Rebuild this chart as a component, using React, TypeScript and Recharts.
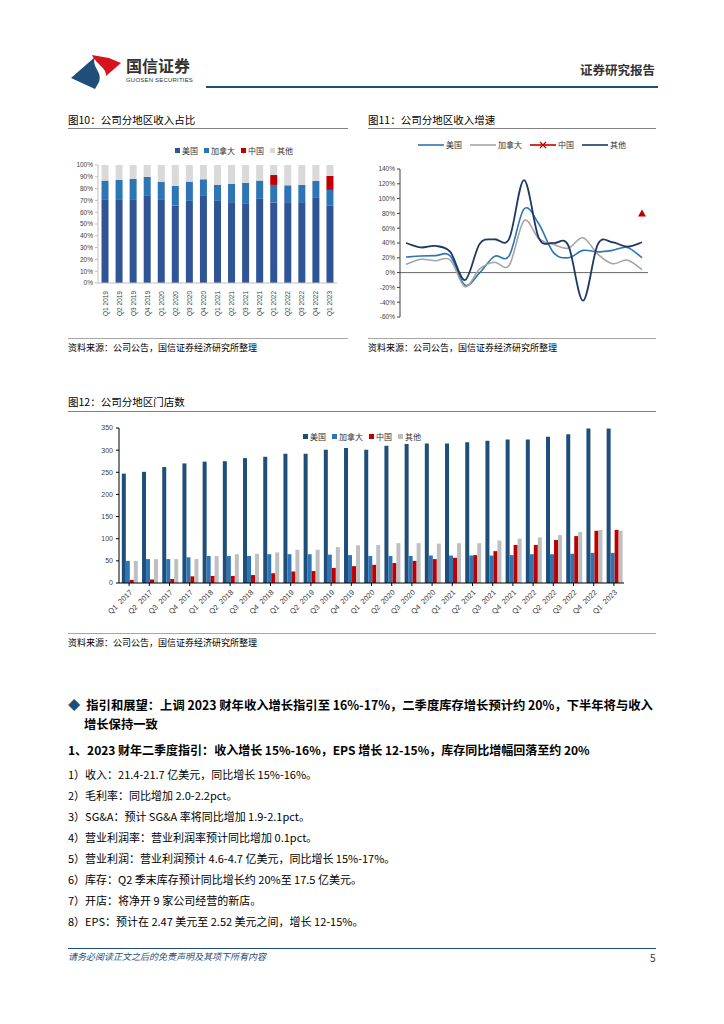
import React from 'react';
import { BarChart, Bar, LineChart, Line, XAxis, YAxis, Legend, ReferenceLine } from 'recharts';

// 图10 / 图11 quarters
const revQuarters = [
  'Q1 2019', 'Q2 2019', 'Q3 2019', 'Q4 2019', 'Q1 2020', 'Q2 2020', 'Q3 2020', 'Q4 2020',
  'Q1 2021', 'Q2 2021', 'Q3 2021', 'Q4 2021', 'Q1 2022', 'Q2 2022', 'Q3 2022', 'Q4 2022', 'Q1 2023',
];

// 图10 收入占比 (%)
const shareUS = [71, 70.4, 70.4, 73.8, 70.4, 65.6, 69.6, 73.8, 69.6, 68.5, 67.6, 71.3, 68.2, 68.5, 68.5, 72.7, 65.4];
const shareCA = [15.8, 16.9, 17.8, 16.1, 15.5, 16.7, 16.3, 14.1, 13.5, 15.4, 17.2, 15.5, 14.9, 14.3, 14.6, 13.8, 13.5];
const shareCN = [0, 0, 0, 0, 0, 0, 0, 0, 0, 0, 0, 0, 8.4, 0, 0, 0, 11.8];
const shareOther = [13.2, 12.7, 11.8, 10.1, 14.1, 17.7, 14.1, 12.1, 16.9, 16.1, 15.2, 13.2, 8.5, 17.2, 16.9, 13.5, 9.3];

// 图11 收入增速 (%)
const growthUS = [21, 22.5, 23, 22.5, -17, 0, 22, 23, 86, 66, 27, 20, 30, 28, 30, 34, 20];
const growthCA = [11, 18, 16, 17, -19, 5, 14, 10, 70, 46, 38, 33, 47, 25, 12, 17, 4];
const growthCN = [null, null, null, null, null, null, null, null, null, null, null, null, null, null, null, null, 80];
const growthOther = [40, 34, 36, 28, -10, 39, 45, 46, 125, 47, 40, 37, -38, 38, 41, 35, 41];

// 图12 门店数
const storeQuarters = [
  'Q1  2017', 'Q2  2017', 'Q3  2017', 'Q4  2017', 'Q1  2018', 'Q2  2018', 'Q3  2018', 'Q4  2018',
  'Q1  2019', 'Q2  2019', 'Q3  2019', 'Q4  2019', 'Q1  2020', 'Q2  2020', 'Q3  2020', 'Q4  2020',
  'Q1  2021', 'Q2  2021', 'Q3  2021', 'Q4  2021', 'Q1  2022', 'Q2  2022', 'Q3  2022', 'Q4  2022', 'Q1  2023',
];
const storesUS = [247, 251, 262, 270, 274, 275, 282, 285, 292, 292, 301, 305, 301, 310, 314, 315, 315, 318, 321, 324, 324, 330, 336, 349, 349];
const storesCA = [50, 54, 54, 58, 61, 61, 61, 65, 65, 65, 64, 63, 61, 61, 61, 62, 62, 62, 62, 63, 65, 65, 66, 68, 68];
const storesCN = [7, 8, 9, 15, 16, 16, 18, 22, 26, 27, 34, 38, 41, 45, 50, 54, 57, 63, 72, 86, 86, 97, 106, 118, 120];
const storesOther = [50, 54, 54, 54, 61, 65, 66, 69, 75, 75, 81, 85, 86, 90, 90, 89, 90, 90, 96, 100, 103, 108, 115, 120, 118];

const guidance = [
  '1）收入：21.4-21.7 亿美元，同比增长 15%-16%。',
  '2）毛利率：同比增加 2.0-2.2pct。',
  '3）SG&A：预计 SG&A 率将同比增加 1.9-2.1pct。',
  '4）营业利润率：营业利润率预计同比增加 0.1pct。',
  '5）营业利润：营业利润预计 4.6-4.7 亿美元，同比增长 15%-17%。',
  '6）库存：Q2 季末库存预计同比增长约 20%至 17.5 亿美元。',
  '7）开店：将净开 9 家公司经营的新店。',
  '8）EPS：预计在 2.47 美元至 2.52 美元之间，增长 12-15%。',
];

const shareData = revQuarters.map((q, i) => ({ q, us: shareUS[i], ca: shareCA[i], cn: shareCN[i], other: shareOther[i] }));
const growthData = revQuarters.map((q, i) => ({ q, us: growthUS[i], ca: growthCA[i], cn: growthCN[i], other: growthOther[i] }));
const storeData = storeQuarters.map((q, i) => ({ q, us: storesUS[i], ca: storesCA[i], cn: storesCN[i], other: storesOther[i] }));

const CJK = '"Noto Sans CJK SC", "Noto Sans", sans-serif';
const TICK_FONT = '"Liberation Sans", Arial, sans-serif';
const NAVY = '#1F4E79';

// excel-like smoothed line (catmull-rom through the points)
const excelSmooth = (context: any) => {
  let pts: number[][] = [];
  return {
    areaStart() {},
    areaEnd() {},
    lineStart() { pts = []; },
    point(x: number, y: number) { pts.push([+x, +y]); },
    lineEnd() {
      if (!pts.length) return;
      context.moveTo(pts[0][0], pts[0][1]);
      for (let i = 0; i < pts.length - 1; i++) {
        const p0 = pts[i - 1] || pts[i];
        const p1 = pts[i];
        const p2 = pts[i + 1];
        const p3 = pts[i + 2] || p2;
        context.bezierCurveTo(
          p1[0] + (p2[0] - p0[0]) / 6, p1[1] + (p2[1] - p0[1]) / 6,
          p2[0] - (p3[0] - p1[0]) / 6, p2[1] - (p3[1] - p1[1]) / 6,
          p2[0], p2[1],
        );
      }
    },
  };
};

const T = ({ x, y, size = 11, bold = false, color = '#000', italic = false, children }: any) => (
  <div style={{
    position: 'absolute', left: x, top: y - size * 0.65, fontSize: size, lineHeight: `${size * 1.3}px`,
    fontWeight: bold ? 700 : 400, color, fontStyle: italic ? 'italic' : 'normal', whiteSpace: 'nowrap',
  }}>{children}</div>
);

const HLine = ({ x, y, w, color = '#808080', h = 1 }: any) => (
  <div style={{ position: 'absolute', left: x, top: y, width: w, height: h, background: color }} />
);

const SquareLegend = ({ items }: any) => (
  <div style={{ display: 'flex', gap: 6, fontFamily: CJK, fontSize: 8, color: '#333', whiteSpace: 'nowrap' }}>
    {items.map((it: any) => (
      <span key={it.label} style={{ display: 'flex', alignItems: 'center', gap: 2 }}>
        <span style={{ width: 5, height: 5, background: it.color, display: 'inline-block' }} />
        {it.label}
      </span>
    ))}
  </div>
);

const LineLegend = ({ items }: any) => (
  <div style={{ display: 'flex', gap: 8, fontFamily: CJK, fontSize: 8, color: '#333', whiteSpace: 'nowrap' }}>
    {items.map((it: any) => (
      <span key={it.label} style={{ display: 'flex', alignItems: 'center', gap: 2 }}>
        <svg width={26} height={8}>
          <line x1={0} y1={4} x2={26} y2={4} stroke={it.color} strokeWidth={1.6} />
          {it.cross && <path d="M10,1 L16,7 M16,1 L10,7" stroke={it.color} strokeWidth={1.2} />}
        </svg>
        {it.label}
      </span>
    ))}
  </div>
);

const VerticalTick = ({ x, y, payload }: any) => (
  <text x={x} y={y} transform={`rotate(-90, ${x}, ${y})`} textAnchor="end" dominantBaseline="central"
    fontSize={6.5} fontFamily={TICK_FONT} fill="#404040">{payload.value}</text>
);

const G_TOP = 34;
const G_H = 148;
const G_ZERO = G_TOP + (G_H * 140) / 200;

const GrowthTick = ({ x, payload }: any) => (
  <g>
    <line x1={x} y1={G_ZERO} x2={x} y2={G_ZERO + 3} stroke="#404040" strokeWidth={0.8} />
    <text x={x} y={G_ZERO + 4} transform={`rotate(-90, ${x}, ${G_ZERO + 4})`} textAnchor="end" dominantBaseline="central"
      fontSize={6.5} fontFamily={TICK_FONT} fill="#404040">{payload.value}</text>
  </g>
);

const SlantTick = ({ x, y, payload }: any) => (
  <text x={x + 2} y={y + 3} transform={`rotate(-45, ${x + 2}, ${y + 3})`} textAnchor="end" dominantBaseline="central"
    fontSize={7.5} fontFamily={TICK_FONT} fill="#404040" style={{ whiteSpace: 'pre' }}>{payload.value}</text>
);

const Triangle = (props: any) => {
  const { cx, cy, value, index } = props;
  if (cx == null || cy == null || value == null) return <g key={`t${index}`} />;
  return <path key={`t${index}`} d={`M${cx},${cy - 4} L${cx + 4},${cy + 3} L${cx - 4},${cy + 3} Z`} fill="#C00000" />;
};

const tickStyle = { fontSize: 6.5, fontFamily: TICK_FONT, fill: '#404040' };

export default function App() {
  return (
    <div style={{ position: 'absolute', left: 0, top: 0, width: 724, height: 1024, background: '#fff', fontFamily: CJK, color: '#000' }}>
      {/* header */}
      <svg style={{ position: 'absolute', left: 66, top: 50 }} width={60} height={44}>
        <path d="M5,28 L29,7 C25,17 37,22 33,32 L29,39 Z" fill={NAVY} />
        <path d="M26,5 L43,8 L55,13 L40,26 C41,18 30,14 26,5 Z" fill="#D7141E" />
      </svg>
      <T x={126} y={65} size={16} bold color="#333">国信证券</T>
      <div style={{ position: 'absolute', left: 126, top: 77, fontSize: 6, fontFamily: TICK_FONT, color: '#333', letterSpacing: 0.2 }}>GUOSEN SECURITIES</div>
      <T x={580} y={70} size={12.5} bold color="#333">证券研究报告</T>
      <HLine x={206} y={86} w={452} h={2} color={NAVY} />

      {/* figure titles */}
      <T x={68} y={120} size={10.5}>图10：公司分地区收入占比</T>
      <HLine x={68} y={128} w={280} />
      <T x={368} y={120} size={10.5}>图11：公司分地区收入增速</T>
      <HLine x={368} y={128} w={288} />

      {/* 图10 */}
      <div style={{ position: 'absolute', left: 60, top: 140 }}>
        <BarChart width={290} height={190} data={shareData} margin={{ top: 25, right: 13, bottom: 0, left: 0 }} barCategoryGap="25%">
          <XAxis dataKey="q" interval={0} height={47} tick={<VerticalTick />} tickLine={false} axisLine={{ stroke: '#BFBFBF' }} />
          <YAxis width={38} domain={[0, 100]} ticks={[0, 10, 20, 30, 40, 50, 60, 70, 80, 90, 100]} interval={0} tickFormatter={(v: number) => `${v}%`}
            tick={tickStyle} tickSize={3} tickMargin={2} axisLine={{ stroke: '#BFBFBF' }} tickLine={{ stroke: '#BFBFBF' }} />
          <Legend verticalAlign="middle" align="center" wrapperStyle={{ left: 115, top: 5, width: 'auto', height: 'auto' }} content={() => (
            <SquareLegend items={[{ label: '美国', color: '#2F5597' }, { label: '加拿大', color: '#2E75B6' }, { label: '中国', color: '#C00000' }, { label: '其他', color: '#D9D9D9' }]} />
          )} />
          <Bar dataKey="us" stackId="a" fill="#2F5597" isAnimationActive={false} />
          <Bar dataKey="ca" stackId="a" fill="#2E75B6" isAnimationActive={false} />
          <Bar dataKey="cn" stackId="a" fill="#C00000" isAnimationActive={false} />
          <Bar dataKey="other" stackId="a" fill="#D9D9D9" isAnimationActive={false} />
        </BarChart>
      </div>

      {/* 图11 */}
      <div style={{ position: 'absolute', left: 360, top: 135 }}>
        <LineChart width={300} height={190} data={growthData} margin={{ top: G_TOP, right: 12, bottom: 8, left: 0 }}>
          <XAxis dataKey="q" interval={0} height={0} padding={{ left: 6, right: 6 }} tick={<GrowthTick />} tickLine={false} axisLine={false} tickSize={0} tickMargin={0} />
          <YAxis width={40} domain={[-60, 140]} ticks={[-60, -40, -20, 0, 20, 40, 60, 80, 100, 120, 140]} interval={0} tickFormatter={(v: number) => `${v}%`}
            tick={tickStyle} tickSize={3} tickMargin={2} axisLine={{ stroke: '#404040' }} tickLine={{ stroke: '#404040' }} />
          <ReferenceLine y={0} stroke="#404040" strokeWidth={0.8} />
          <Legend verticalAlign="middle" align="center" wrapperStyle={{ left: 58, top: 4, width: 'auto', height: 'auto' }} content={() => (
            <LineLegend items={[{ label: '美国', color: '#2E75B6' }, { label: '加拿大', color: '#A5A5A5' }, { label: '中国', color: '#C00000', cross: true }, { label: '其他', color: '#1F3864' }]} />
          )} />
          <Line dataKey="us" type={excelSmooth as any} stroke="#2E75B6" strokeWidth={1.6} dot={false} isAnimationActive={false} />
          <Line dataKey="ca" type={excelSmooth as any} stroke="#A5A5A5" strokeWidth={1.6} dot={false} isAnimationActive={false} />
          <Line dataKey="cn" type={excelSmooth as any} stroke="#C00000" strokeWidth={1.6} dot={Triangle} activeDot={false} isAnimationActive={false} />
          <Line dataKey="other" type={excelSmooth as any} stroke="#1F3864" strokeWidth={1.8} dot={false} isAnimationActive={false} />
        </LineChart>
      </div>

      <HLine x={68} y={338} w={280} color="#A6A6A6" />
      <HLine x={368} y={338} w={288} color="#A6A6A6" />
      <T x={68} y={348} size={9}>资料来源：公司公告，国信证券经济研究所整理</T>
      <T x={368} y={348} size={9}>资料来源：公司公告，国信证券经济研究所整理</T>

      {/* 图12 */}
      <T x={68} y={402} size={10.5}>图12：公司分地区门店数</T>
      <HLine x={68} y={411} w={588} />
      <div style={{ position: 'absolute', left: 62, top: 420 }}>
        <BarChart width={600} height={200} data={storeData} margin={{ top: 8, right: 38, bottom: 0, left: 0 }} barGap={0} barCategoryGap="14%">
          <XAxis dataKey="q" interval={0} height={37} tick={<SlantTick />} tickSize={3} tickMargin={2} axisLine={{ stroke: '#000' }} tickLine={{ stroke: '#000' }} />
          <YAxis width={57} domain={[0, 350]} ticks={[0, 50, 100, 150, 200, 250, 300, 350]} interval={0}
            tick={{ ...tickStyle, fontSize: 7 }} tickSize={3} tickMargin={3} axisLine={{ stroke: '#000' }} tickLine={{ stroke: '#000' }} />
          <Legend verticalAlign="middle" align="center" wrapperStyle={{ left: 241, top: 11, width: 'auto', height: 'auto' }} content={() => (
            <SquareLegend items={[{ label: '美国', color: NAVY }, { label: '加拿大', color: '#2E75B6' }, { label: '中国', color: '#C00000' }, { label: '其他', color: '#BFBFBF' }]} />
          )} />
          <Bar dataKey="us" fill={NAVY} isAnimationActive={false} />
          <Bar dataKey="ca" fill="#2E75B6" isAnimationActive={false} />
          <Bar dataKey="cn" fill="#C00000" isAnimationActive={false} />
          <Bar dataKey="other" fill="#BFBFBF" isAnimationActive={false} />
        </BarChart>
      </div>
      <HLine x={68} y={633} w={588} color="#A6A6A6" />
      <T x={68} y={643} size={9}>资料来源：公司公告，国信证券经济研究所整理</T>

      {/* text */}
      <div style={{ position: 'absolute', left: 68, top: 696, width: 600, fontSize: 12.3, lineHeight: '19px', fontWeight: 700, whiteSpace: 'nowrap' }}>
        <span style={{ color: NAVY, marginRight: 6 }}>◆</span>
        指引和展望：上调 2023 财年收入增长指引至 16%-17%，二季度库存增长预计约 20%，下半年将与收入
        <div style={{ paddingLeft: 16 }}>增长保持一致</div>
      </div>
      <T x={68} y={750} size={12} bold>1、2023 财年二季度指引：收入增长 15%-16%，EPS 增长 12-15%，库存同比增幅回落至约 20%</T>
      {guidance.map((g, i) => (
        <T key={g} x={68} y={774 + i * 21} size={11}>{g}</T>
      ))}

      {/* footer */}
      <HLine x={68} y={948} w={588} color={NAVY} />
      <T x={68} y={957} size={9} italic color={NAVY}>请务必阅读正文之后的免责声明及其项下所有内容</T>
      <T x={650} y={957} size={10} color="#333">5</T>
    </div>
  );
}
